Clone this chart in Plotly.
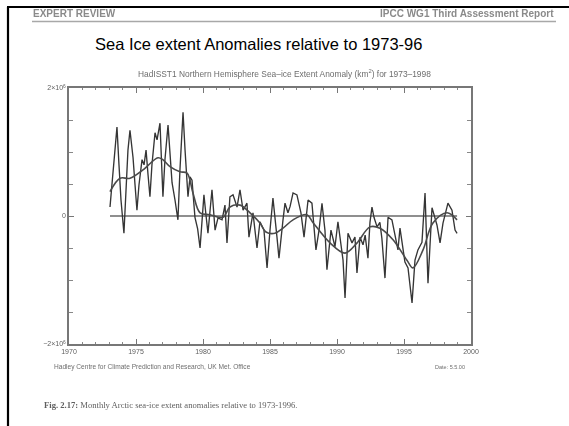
import plotly.graph_objects as go

# Monthly NH sea-ice extent anomaly (km^2), 1973-1998
years = [
    1973.06, 1973.21, 1973.36, 1973.58, 1973.73, 1973.88, 1974.10, 1974.25, 1974.40, 1974.55,
    1974.78, 1974.93, 1975.07, 1975.22, 1975.45, 1975.60, 1975.75, 1975.90, 1976.04, 1976.19,
    1976.42, 1976.57, 1976.79, 1977.01, 1977.16, 1977.39, 1977.54, 1977.69, 1977.91, 1978.13,
    1978.28, 1978.51, 1978.66, 1978.88, 1979.03, 1979.18, 1979.40, 1979.60, 1979.78, 1980.07,
    1980.22, 1980.37, 1980.67, 1980.90, 1981.12, 1981.42, 1981.64, 1981.79, 1982.01, 1982.24,
    1982.54, 1982.76, 1982.99, 1983.28, 1983.43, 1983.73, 1984.03, 1984.25, 1984.55, 1984.78,
    1985.00, 1985.22, 1985.52, 1985.67, 1985.97, 1986.12, 1986.34, 1986.50, 1986.72, 1987.01,
    1987.31, 1987.54, 1987.84, 1988.13, 1988.43, 1988.66, 1988.88, 1989.10, 1989.25, 1989.55,
    1989.85, 1990.07, 1990.45, 1990.60, 1990.82, 1991.12, 1991.34, 1991.49, 1991.72, 1991.94,
    1992.10, 1992.31, 1992.46, 1992.61, 1992.76, 1992.99, 1993.20, 1993.35, 1993.58, 1993.81,
    1994.10, 1994.33, 1994.55, 1994.70, 1994.93, 1995.07, 1995.30, 1995.60, 1995.82, 1996.04,
    1996.34, 1996.57, 1996.79, 1997.09, 1997.46, 1997.69, 1997.91, 1998.28, 1998.58, 1998.81,
    1998.96,
]
anomaly = [
    0.14, 0.48, 0.88, 1.39, 0.80, 0.25, -0.27, 0.33, 1.03, 1.34,
    0.91, 0.48, 0.09, 0.48, 0.88, 0.80, 1.03, 0.64, 0.30, 0.80,
    1.30, 1.19, 1.45, 0.30, 0.88, 1.42, 1.03, 0.52, 0.25, -0.06,
    0.72, 1.62, 1.03, 0.30, 0.61, 0.56, -0.02, -0.20, -0.50, 0.33,
    0.02, -0.27, 0.41, -0.22, -0.03, -0.06, 0.17, -0.42, 0.30, 0.33,
    0.14, 0.41, 0.09, 0.20, -0.33, 0.05, -0.50, -0.09, -0.22, -0.81,
    -0.22, 0.28, -0.33, -0.66, -0.06, 0.20, 0.05, 0.15, 0.36, 0.33,
    0.05, -0.33, 0.25, 0.20, -0.53, -0.22, 0.20, -0.22, -0.84, -0.22,
    -0.48, -0.09, -0.69, -1.28, -0.27, -0.42, -0.33, -0.89, -0.33, -0.45,
    -0.30, -0.66, -0.10, 0.14, -0.02, -0.17, -0.10, -0.35, -0.97, -0.02,
    -0.06, -0.33, -0.53, -0.19, -0.53, -0.72, -0.81, -1.36, -0.69, -0.53,
    -0.41, 0.36, -1.05, 0.13, -0.14, -0.42, -0.11, 0.20, 0.09, -0.22,
    -0.27,
]

# Running-mean curve (km^2)
smooth_years = [
    1973.06, 1973.81, 1974.55, 1975.52, 1976.64, 1977.00, 1977.54, 1978.28, 1978.81, 1979.25,
    1979.78, 1980.52, 1981.49, 1982.01, 1982.76, 1983.51, 1984.25, 1984.70, 1985.37, 1985.97,
    1986.72, 1987.76, 1988.20, 1989.48, 1990.60, 1991.50, 1992.46, 1993.20, 1994.18, 1995.22,
    1995.67, 1996.42, 1997.16, 1998.21, 1998.96,
]
smooth_anomaly = [
    0.38, 0.59, 0.59, 0.72, 0.91, 0.88, 0.77, 0.69, 0.67, 0.36,
    0.05, 0.02, -0.02, 0.14, 0.17, 0.05, -0.11, -0.25, -0.27, -0.19,
    -0.06, 0.02, -0.10, -0.42, -0.58, -0.42, -0.17, -0.19, -0.37, -0.69,
    -0.81, -0.53, -0.11, 0.05, -0.06,
]

scale = 1e6
x_ticks = [1970, 1975, 1980, 1985, 1990, 1995, 2000]
y_tickvals = [-2e6, 0, 2e6]
y_ticktext = ["\u22122\u00d710<sup>6</sup>", "0", "2\u00d710<sup>6</sup>"]

W, H = 569, 426
L, R, T, B = 69, 471, 88, 344


def px(x):
    return (x - L) / (R - L)


def py(y):
    return (B - y) / (B - T)


fig = go.Figure()

# zero reference line over the data period
fig.add_trace(go.Scatter(
    x=[years[0], years[-1]], y=[0, 0], mode="lines",
    line=dict(color="#6a6a6a", width=1.7), hoverinfo="skip",
))
fig.add_trace(go.Scatter(
    x=years, y=[v * scale for v in anomaly], mode="lines",
    line=dict(color="#353535", width=1.35),
))
fig.add_trace(go.Scatter(
    x=smooth_years, y=[v * scale for v in smooth_anomaly], mode="lines",
    line=dict(color="#4a4a4a", width=1.6, shape="spline"),
))

axis_font = dict(family="Liberation Sans, Arial, sans-serif", size=7, color="#5e5e5e")

fig.update_layout(
    width=W, height=H,
    margin=dict(l=L, r=W - R, t=T, b=H - B),
    paper_bgcolor="white", plot_bgcolor="white",
    showlegend=False,
    xaxis=dict(
        range=[1970, 2000], tickvals=x_ticks, ticktext=[str(v) for v in x_ticks],
        ticks="inside", ticklen=5, tickcolor="#777", tickwidth=1,
        minor=dict(dtick=1, ticks="inside", ticklen=2.5, tickcolor="#888"),
        showline=True, linecolor="#777", linewidth=1.5, mirror="allticks",
        showgrid=False, zeroline=False, tickfont=axis_font,
    ),
    yaxis=dict(
        range=[-2e6, 2e6], tickvals=y_tickvals, ticktext=y_ticktext,
        ticks="inside", ticklen=5, tickcolor="#777", tickwidth=1,
        minor=dict(tickvals=[-1.5e6, -1e6, -0.5e6, 0.5e6, 1e6, 1.5e6],
                   ticks="inside", ticklen=4, tickcolor="#888"),
        showline=True, linecolor="#777", linewidth=1.5, mirror="allticks",
        showgrid=False, zeroline=False, tickfont=axis_font,
    ),
)

shapes = [
    # page border (left and top)
    dict(type="line", xref="paper", yref="paper", x0=px(8), x1=px(8), y0=py(7), y1=py(430),
         line=dict(color="black", width=2.2)),
    dict(type="line", xref="paper", yref="paper", x0=px(7), x1=px(572), y0=py(7), y1=py(7),
         line=dict(color="black", width=2.2)),
    # header rule
    dict(type="line", xref="paper", yref="paper", x0=px(32), x1=px(556), y0=py(21.5), y1=py(21.5),
         line=dict(color="#a8a8a8", width=1.5)),
]
fig.update_layout(shapes=shapes)

ann = []


def note(text, x, y, size, color, xanchor="left", family="Liberation Sans, Arial, sans-serif"):
    ann.append(dict(text=text, x=px(x), y=py(y), xref="paper", yref="paper",
                    xanchor=xanchor, yanchor="middle", showarrow=False,
                    font=dict(family=family, size=size, color=color)))


note("<b>EXPERT REVIEW</b>", 31, 13, 10, "#8a8a8a")
note("<b>IPCC WG1 Third Assessment Report</b>", 556, 13, 10, "#8a8a8a", xanchor="right")
note("Sea Ice extent Anomalies relative to 1973-96", 258, 44, 16.5, "black", xanchor="center")
note("HadISST1 Northern Hemisphere Sea\u2013ice Extent Anomaly (km<sup>2</sup>) for 1973\u20131998",
     284, 73, 8.4, "#6e6e6e", xanchor="center")
note("Hadley Centre for Climate Prediction and Research, UK Met. Office", 52, 367, 6.6, "#6e6e6e")
note("Date: 5.5.00", 450, 367, 5.5, "#6e6e6e", xanchor="center")
note("<b>Fig. 2.17:</b> Monthly Arctic sea-ice extent anomalies relative to 1973-1996.",
     42, 405, 8.6, "#5e5e5e", family="Liberation Serif, Times New Roman, serif")

fig.update_layout(annotations=ann)

# the scanned page is soft everywhere except the overlaid slide title (annotation 2)
soften = """
var gd = document.getElementById('{plot_id}');
function soften() {
  gd.querySelectorAll('.cartesianlayer, .layer-above, .xtick, .ytick').forEach(function (e) {
    e.style.filter = 'blur(0.55px)';
  });
  gd.querySelectorAll('.annotation').forEach(function (e) {
    if (e.getAttribute('data-index') !== '2') { e.style.filter = 'blur(0.5px)'; }
  });
}
soften();
gd.on('plotly_afterplot', soften);
"""

fig.write_html("out.html", post_script=soften)
